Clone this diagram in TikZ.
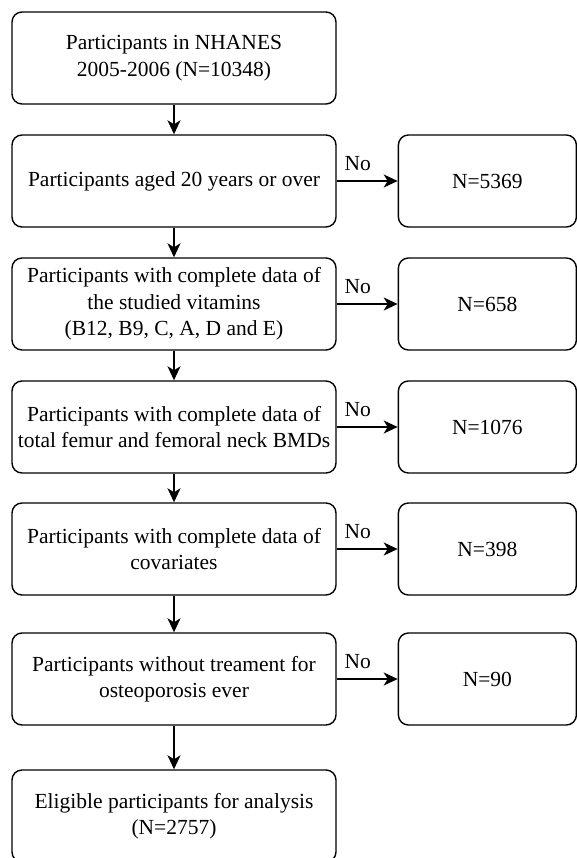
\documentclass[tikz,border=0pt]{standalone}
\usepackage{fontspec}
\setmainfont{Liberation Serif}
\usepackage{tikz}
\usetikzlibrary{positioning, shapes, arrows.meta, calc}

\tikzset{
  stagebox/.style={rectangle, rounded corners=10pt, draw, line width=1.4pt,
    minimum width=324pt, minimum height=92pt, align=center,
    font=\fontsize{21.5}{26.5}\selectfont},
  exclbox/.style={stagebox, minimum width=178pt},
  flow/.style={line width=1.6pt, -{Stealth[length=14pt, width=13pt, inset=4pt]}},
  nolabel/.style={pos=0, anchor=south west, inner sep=0pt, xshift=7pt, yshift=9pt,
    font=\fontsize{21.5}{26.5}\selectfont}
}

\begin{document}
\begin{tikzpicture}[x=1pt, y=-1pt]
                  \useasboundingbox (0,0) rectangle (577,858);
                  % Nodes
                  \node[stagebox] (stage1) at (174,58) {Participants in NHANES\\ 2005-2006 (N=10348)};
                  \node[stagebox] (stage2) at (174,181) {Participants aged 20 years or over};
                  \node[stagebox] (stage3) at (174,304) {Participants with complete data of\\ the studied vitamins\\ (B12, B9, C, A, D and E)};
                  \node[stagebox] (stage4) at (174,427) {Participants with complete data of\\ total femur and femoral neck BMDs};
                  \node[stagebox] (stage5) at (174,549) {Participants with complete data of\\ covariates};
                  \node[stagebox] (stage6) at (174,679) {Participants without treament for\\ osteoporosis ever};
                  \node[stagebox] (stage7) at (174,816) {Eligible participants for analysis\\ (N=2757)};

                  \foreach \i/\n in {2/5369,3/658,4/1076,5/398,6/90}
                  \node[exclbox, right=61pt of stage\i] (excluded\i) {N=\n};

                  % Arrows
                  \foreach \i/\j in {1/2,2/3,3/4,4/5,5/6,6/7}
                  \draw[flow] (stage\i) -- (stage\j);
                  \foreach \i in {2,...,6}
                  \draw[flow] (stage\i) -- node[nolabel] {No} (excluded\i);
              \end{tikzpicture}
\end{document}
